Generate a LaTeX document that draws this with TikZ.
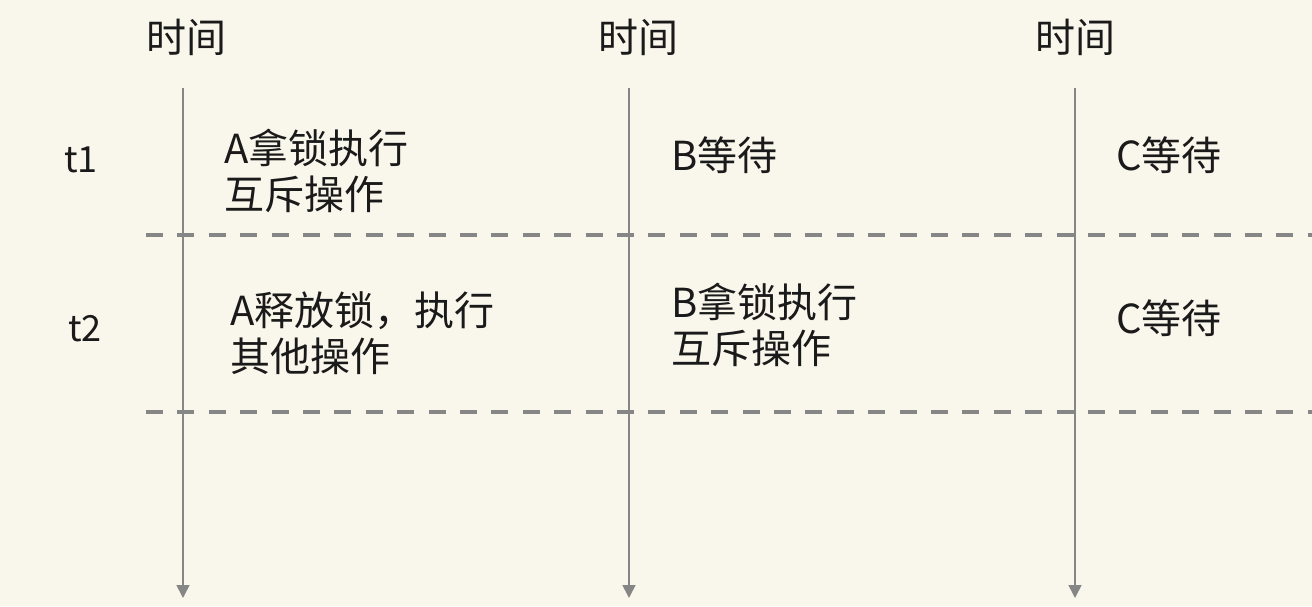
\documentclass[tikz,border=0pt]{standalone}
\usepackage{fontspec}
\setmainfont{Noto Sans CJK SC}
\usetikzlibrary{arrows.meta}
\definecolor{paper}{HTML}{F9F7EC}
\definecolor{rule}{HTML}{868686}
\definecolor{ink}{HTML}{1A1A1A}
\begin{document}
\begin{tikzpicture}[x=1pt,y=-1pt,
  label/.style={inner sep=0pt, text=ink, font=\fontsize{40}{46}\selectfont, align=left},
  head/.style={inner sep=0pt, text=ink, font=\fontsize{40}{46}\selectfont},
  rowname/.style={inner sep=0pt, text=ink, font=\fontsize{36}{44}\selectfont},
  axis/.style={draw=rule, line width=1.6pt, -{Triangle[width=13pt,length=13pt]}},
  divider/.style={draw=rule, line width=3.5pt, dash pattern=on 17pt off 14.4pt}]
  \fill[paper] (0,0) rectangle (1312,606);
  \useasboundingbox (0,0) rectangle (1312,606);

  % column headings
  \node[head] (h1) at (186,37) {时间};
  \node[head] (h2) at (638,37) {时间};
  \node[head] (h3) at (1075,37) {时间};

  % time axes
  \coordinate (a1t) at (183,88);  \coordinate (a1b) at (183,598);
  \coordinate (a2t) at (629,88);  \coordinate (a2b) at (629,598);
  \coordinate (a3t) at (1075,88); \coordinate (a3b) at (1075,598);
  \draw[axis] (a1t) -- (a1b);
  \draw[axis] (a2t) -- (a2b);
  \draw[axis] (a3t) -- (a3b);

  % period separators
  \coordinate (s1l) at (146,235); \coordinate (s1r) at (1312,235);
  \coordinate (s2l) at (146,412); \coordinate (s2r) at (1312,412);
  \draw[divider] (s1l) -- (s1r);
  \draw[divider] (s2l) -- (s2r);

  % row labels
  \node[rowname] (t1) at (81,160) {t1};
  \node[rowname] (t2) at (85,329) {t2};

  % period t1
  \node[label, anchor=west] (a1) at (224,171) {A拿锁执行\\互斥操作};
  \node[label, anchor=west] (b1) at (671,155) {B等待};
  \node[label, anchor=west] (c1) at (1116,155) {C等待};

  % period t2
  \node[label, anchor=west] (a2) at (230,333) {A释放锁，执行\\其他操作};
  \node[label, anchor=west] (b2) at (671,325) {B拿锁执行\\互斥操作};
  \node[label, anchor=west] (c2) at (1116,318) {C等待};
\end{tikzpicture}
\end{document}
